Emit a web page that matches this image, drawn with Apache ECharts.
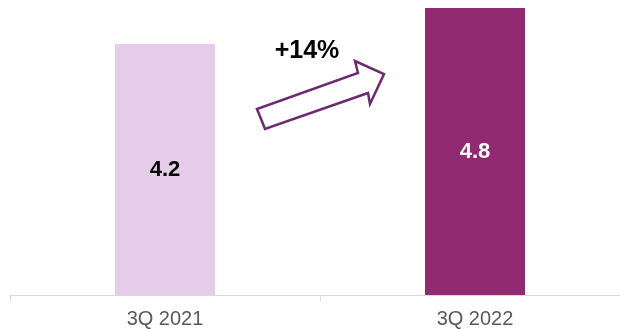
<!DOCTYPE html>
<html><head><meta charset="utf-8">
<script src="https://cdn.jsdelivr.net/npm/echarts@6/dist/echarts.min.js"></script>
<style>html,body{margin:0;padding:0;background:#fff;overflow:hidden}#c{width:640px;height:330px}</style>
</head><body><div id="c"></div>
<script>
const categories = ['3Q 2021', '3Q 2022'];
const values = [4.2, 4.8];
const barColors = ['#E5CCE8', '#912A70'];
const labelColors = ['#000000', '#FFFFFF'];
const growthLabel = '+14%';

const chart = echarts.init(document.getElementById('c'));
chart.setOption({
  animation: false,
  grid: {left: 10, right: 10, top: 8, bottom: 35, containLabel: false},
  xAxis: {
    type: 'category', data: categories,
    axisLine: {lineStyle: {color: '#D9D9D9', width: 1}},
    axisTick: {show: true, alignWithLabel: false, length: 6, lineStyle: {color: '#D9D9D9'}},
    axisLabel: {color: '#595959', fontSize: 20, fontFamily: 'Liberation Sans, Arial', margin: 14}
  },
  yAxis: {type: 'value', min: 0, max: 4.8, show: false, splitLine: {show: false}},
  series: [{
    type: 'bar', barWidth: 100,
    data: values.map((v, i) => ({value: v, itemStyle: {color: barColors[i]},
      label: {color: labelColors[i]}})),
    label: {show: true, position: 'inside', fontSize: 22, fontWeight: 'bold',
      fontFamily: 'Liberation Sans, Arial', formatter: p => p.value.toFixed(1)}
  }],
  graphic: [
    {type: 'polygon', shape: {points: [[257,109],[265,129],[368,93],[370,104],[384,74],[355,61],[358,73]]},
     style: {fill: '#fff', stroke: '#6B2A72', lineWidth: 2.5}},
    {type: 'text', x: 307, y: 51, style: {text: growthLabel, fontSize: 25, fontWeight: 'bold',
      fontFamily: 'Liberation Sans, Arial', fill: '#000', align: 'center', verticalAlign: 'middle'}}
  ]
});
</script></body></html>
